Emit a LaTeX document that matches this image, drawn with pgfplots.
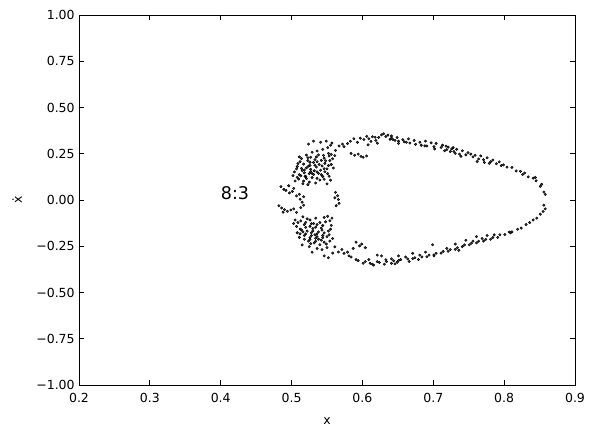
\documentclass[border=0pt]{standalone}
\usepackage{fontspec}
\setmainfont{DejaVu Sans}
\usepackage{pgfplots}
\pgfplotsset{compat=1.18}
\begin{document}
\fontsize{12.5bp}{15bp}\selectfont
\begin{tikzpicture}
\path[use as bounding box] (-79bp,-48bp) rectangle (517bp,385bp);
\begin{axis}[
  at={(0,0)}, anchor=south west,
  scale only axis, width=496bp, height=370bp,
  xmin=0.2, xmax=0.9, ymin=-1, ymax=1,
  xtick={0.2,0.3,0.4,0.5,0.6,0.7,0.8,0.9},
  xticklabels={0.2,0.3,0.4,0.5,0.6,0.7,0.8,0.9},
  ytick={-1,-0.75,-0.5,-0.25,0,0.25,0.5,0.75,1},
  yticklabels={−1.00,−0.75,−0.50,−0.25,0.00,0.25,0.50,0.75,1.00},
  tick align=inside,
  major tick length=4.9bp,
  every tick/.style={black, line width=0.8bp},
  axis line style={line width=0.8bp},
  xlabel={x}, ylabel={ẋ},
  xticklabel style={yshift=-4bp},
  xlabel style={yshift=-6bp},
  ylabel style={yshift=6bp},
  tick label style={font=\fontsize{12.5bp}{15bp}\selectfont},
  label style={font=\fontsize{12.5bp}{15bp}\selectfont},
  /pgf/number format/assume math mode=true,
  clip=false,
]
\addplot[only marks, mark=*, mark size=1.25bp, mark options={draw=none, fill=black, fill opacity=0.78}] coordinates {
(0.512,0.207) (0.517,0.194) (0.514,0.224) (0.523,0.213) (0.526,0.187) (0.531,0.203) (0.533,0.218) (0.539,0.192) (0.542,0.214) (0.546,0.226) (0.547,0.198) (0.552,0.186) (0.554,0.213)
(0.508,0.181) (0.514,0.171) (0.518,0.162) (0.524,0.183) (0.527,0.166) (0.532,0.158) (0.535,0.178) (0.541,0.161) (0.543,0.184) (0.550,0.168)
(0.504,0.152) (0.511,0.137) (0.513,0.131) (0.518,0.147) (0.520,0.127) (0.525,0.143) (0.529,0.121) (0.531,0.138) (0.536,0.117) (0.538,0.144) (0.544,0.127) (0.546,0.112) (0.553,0.128) (0.555,0.107)
(0.508,0.122) (0.510,0.113) (0.517,0.102) (0.521,0.116) (0.525,0.097) (0.534,0.092) (0.540,0.108) (0.550,0.087) (0.502,0.132) (0.507,0.168)
(0.511,0.233) (0.521,0.243) (0.527,0.231) (0.538,0.244) (0.545,0.241) (0.553,0.238) (0.558,0.223) (0.544,0.274) (0.551,0.283) (0.541,0.312) (0.549,0.318) (0.555,0.296) (0.562,0.268) (0.567,0.292) (0.572,0.302)
(0.529,0.258) (0.523,0.228) (0.533,0.188) (0.527,0.153) (0.536,0.152) (0.519,0.128) (0.509,0.197) (0.556,0.192) (0.559,0.173) (0.547,0.153) (0.551,0.142) (0.535,0.233) (0.516,0.088) (0.523,0.083) (0.505,0.103)
(0.526,0.204) (0.536,0.207) (0.548,0.212) (0.521,0.174) (0.546,0.169) (0.529,0.143) (0.542,0.137) (0.515,0.159) (0.556,0.247) (0.561,0.24) (0.536,0.265) (0.524,0.302) (0.531,0.318) (0.552,0.252)
(0.485,0.072) (0.489,0.058) (0.492,0.052) (0.497,0.038) (0.501,0.046) (0.503,0.063) (0.496,0.077) (0.507,0.022) (0.512,0.004) (0.517,0.018) (0.515,-0.012) (0.511,0.031)
(0.482,-0.031) (0.486,-0.043) (0.490,-0.052) (0.494,-0.061) (0.499,-0.054) (0.503,-0.048) (0.507,-0.067) (0.488,-0.066) (0.513,-0.041) (0.517,-0.028)
(0.562,0.041) (0.565,0.023) (0.566,0.003) (0.567,-0.018) (0.563,-0.031) (0.561,0.012)
(0.505,-0.108) (0.509,-0.122) (0.513,-0.113) (0.518,-0.133) (0.520,-0.121) (0.526,-0.142) (0.528,-0.128) (0.534,-0.147) (0.536,-0.133) (0.542,-0.152) (0.544,-0.138) (0.548,-0.118) (0.554,-0.112) (0.557,-0.098) (0.551,-0.088) (0.546,-0.094)
(0.507,-0.143) (0.512,-0.157) (0.514,-0.162) (0.520,-0.148) (0.522,-0.168) (0.528,-0.177) (0.530,-0.167) (0.536,-0.183) (0.538,-0.172) (0.544,-0.192) (0.546,-0.178) (0.552,-0.168) (0.555,-0.158)
(0.512,-0.183) (0.518,-0.192) (0.520,-0.183) (0.526,-0.203) (0.528,-0.192) (0.534,-0.207) (0.536,-0.198) (0.542,-0.217) (0.544,-0.203) (0.550,-0.198) (0.553,-0.188)
(0.518,-0.212) (0.524,-0.222) (0.526,-0.213) (0.532,-0.232) (0.534,-0.223) (0.540,-0.242) (0.546,-0.228) (0.554,-0.222) (0.558,-0.208) (0.511,-0.202) (0.508,-0.177) (0.503,-0.127)
(0.515,-0.243) (0.525,-0.252) (0.529,-0.282) (0.543,-0.268) (0.550,-0.257) (0.546,-0.302) (0.552,-0.312) (0.558,-0.287) (0.566,-0.281) (0.561,-0.253) (0.571,-0.268) (0.536,-0.262)
(0.516,-0.091) (0.522,-0.102) (0.526,-0.108) (0.534,-0.098) (0.540,-0.122) (0.556,-0.137) (0.543,-0.163) (0.530,-0.154) (0.533,-0.188) (0.527,-0.236) (0.538,-0.212) (0.549,-0.238) (0.516,-0.172) (0.531,-0.127)
(0.574,0.288) (0.579,0.305) (0.583,0.318) (0.588,0.331) (0.593,0.312) (0.597,0.334) (0.602,0.327) (0.606,0.344) (0.609,0.331) (0.614,0.342) (0.619,0.322) (0.623,0.338) (0.627,0.352) (0.630,0.358) (0.633,0.343) (0.636,0.351) (0.641,0.334) (0.643,0.327) (0.649,0.338) (0.651,0.318) (0.657,0.326) (0.659,0.314) (0.665,0.33) (0.667,0.308) (0.673,0.322) (0.675,0.301) (0.681,0.312) (0.683,0.296) (0.689,0.318) (0.691,0.292) (0.697,0.309) (0.701,0.288) (0.704,0.306) (0.711,0.284) (0.713,0.296) (0.719,0.272) (0.721,0.286) (0.726,0.276) (0.729,0.262) (0.733,0.274) (0.737,0.248) (0.741,0.266) (0.746,0.244) (0.749,0.256) (0.756,0.233) (0.759,0.242) (0.764,0.222) (0.767,0.238) (0.771,0.218) (0.776,0.228) (0.781,0.207) (0.784,0.216) (0.789,0.196) (0.793,0.206) (0.799,0.19) (0.804,0.178) (0.811,0.176) (0.817,0.157) (0.823,0.155) (0.829,0.146) (0.834,0.125) (0.841,0.118) (0.845,0.104) (0.851,0.074) (0.853,0.085) (0.856,0.043) (0.858,0.03)
(0.589,0.242) (0.594,0.248) (0.601,0.231) (0.606,0.238) (0.584,0.252) (0.651,0.306) (0.662,0.312) (0.702,0.276) (0.716,0.266) (0.731,0.252) (0.739,0.236) (0.724,0.262) (0.762,0.208) (0.772,0.203) (0.796,0.186) (0.608,0.298) (0.621,0.307) (0.646,0.322) (0.612,0.317) (0.639,0.328) (0.688,0.293) (0.718,0.291) (0.753,0.248) (0.779,0.198) (0.826,0.138) (0.844,0.122) (0.557,0.308) (0.598,0.236) (0.728,0.283) (0.641,0.346) (0.618,0.339)
(0.856,-0.028) (0.858,-0.048) (0.855,-0.062) (0.851,-0.077) (0.846,-0.098) (0.841,-0.108) (0.836,-0.122) (0.831,-0.133) (0.824,-0.152) (0.819,-0.158) (0.811,-0.172) (0.807,-0.173) (0.801,-0.187) (0.794,-0.188) (0.791,-0.202) (0.784,-0.203) (0.781,-0.212) (0.774,-0.213) (0.771,-0.222) (0.764,-0.223) (0.761,-0.232) (0.754,-0.233) (0.751,-0.242) (0.744,-0.243) (0.741,-0.252) (0.734,-0.258) (0.731,-0.267) (0.724,-0.268) (0.721,-0.277) (0.714,-0.278) (0.711,-0.287) (0.704,-0.288) (0.701,-0.297) (0.694,-0.298) (0.691,-0.307) (0.684,-0.308) (0.681,-0.298) (0.674,-0.312) (0.671,-0.317) (0.664,-0.318) (0.661,-0.308) (0.654,-0.322) (0.651,-0.327) (0.644,-0.328) (0.641,-0.342) (0.634,-0.333) (0.631,-0.347) (0.624,-0.338) (0.621,-0.333) (0.614,-0.347) (0.611,-0.342) (0.604,-0.333) (0.601,-0.342) (0.594,-0.328) (0.591,-0.322) (0.584,-0.308) (0.581,-0.302) (0.574,-0.288)
(0.596,-0.248) (0.599,-0.238) (0.591,-0.228) (0.587,-0.262) (0.604,-0.258) (0.579,-0.282) (0.621,-0.298) (0.627,-0.302) (0.641,-0.318) (0.651,-0.302) (0.671,-0.288) (0.689,-0.282) (0.699,-0.242) (0.719,-0.262) (0.731,-0.238) (0.746,-0.218) (0.761,-0.198) (0.776,-0.192) (0.786,-0.188) (0.809,-0.177) (0.666,-0.332) (0.679,-0.322) (0.701,-0.302) (0.736,-0.272) (0.756,-0.222) (0.769,-0.208) (0.609,-0.322) (0.633,-0.323) (0.649,-0.337) (0.646,-0.345) (0.616,-0.352)
};
\node[anchor=base west, inner sep=0pt, font=\fontsize{17.5bp}{20bp}\selectfont] at (axis cs:0.4,0.0) {8:3};
\end{axis}
\end{tikzpicture}
\end{document}
